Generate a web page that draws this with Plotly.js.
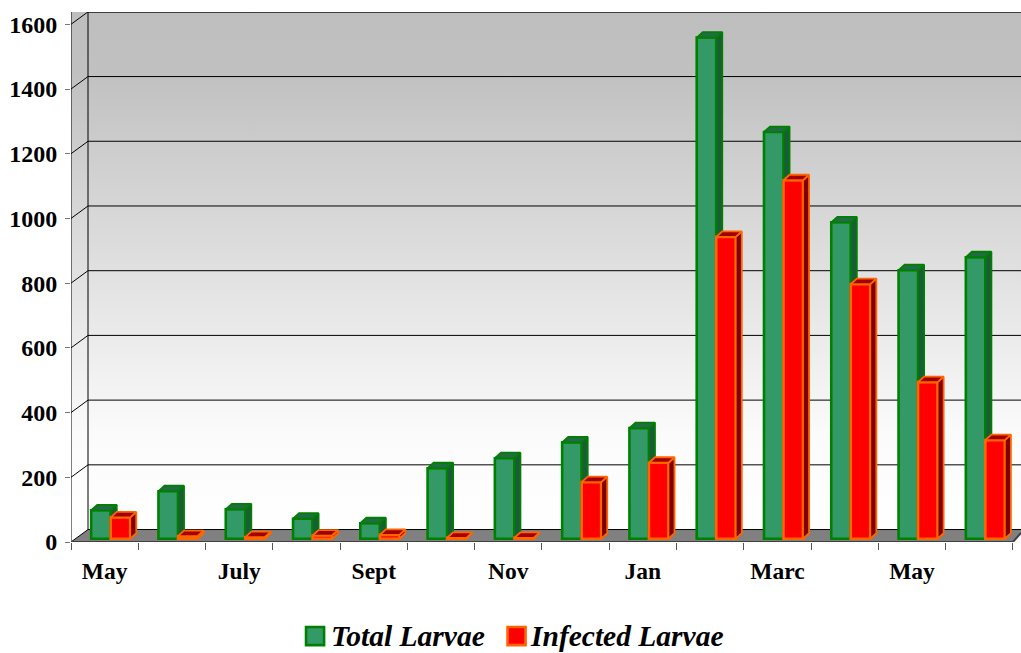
<!DOCTYPE html>
<html>
<head>
<meta charset="utf-8">
<script src="https://cdn.plot.ly/plotly-3.0.1.min.js"></script>
<style>html,body{margin:0;padding:0;background:#fff}#chart{width:1021px;height:653px}</style>
</head>
<body>
<div id="chart"></div>
<script>
// Monthly larvae counts
const months = ['May','','July','','Sept','','Nov','','Jan','','Marc','','May',''];
const totalLarvae = [88,147,91,62,48,218,249,298,342,1549,1257,978,830,870];
const infectedLarvae = [66,8,5,10,12,3,3,175,235,933,1108,787,484,305];
const yTicks = [0,200,400,600,800,1000,1200,1400,1600];

// Pseudo-3D box geometry, in axis units
const xMin = -0.5, xFront = 13.5, xMax = 13.62;
const yMax = 1638;
const wallDx = 0.2526, wallDy = 38.5;   // depth of the back wall
const barDx = 0.09, barDy = 17;         // depth of each bar
const barLift = 10, barWidth = 0.29;
const totalOffset = -0.2, infectedOffset = 0.09;
const edge = 2.6, depthEdge = 1.8;

const serif = 'Liberation Serif, Times New Roman, serif';
const idx = months.map((_, i) => i);

// Side and top faces of a bar series, as polygons separated by gaps
function faces(values, offset) {
  const side = {x: [], y: []}, top = {x: [], y: []};
  values.forEach((v, i) => {
    const l = i + offset, r = l + barWidth, b = barLift, t = barLift + v;
    side.x.push(r, r + barDx, r + barDx, r, r, null);
    side.y.push(b, b + barDy, t + barDy, t, b, null);
    top.x.push(l, l + barDx, r + barDx, r, l, null);
    top.y.push(t, t + barDy, t + barDy, t, t, null);
  });
  return {side, top};
}

function boxTraces(values, offset, name, front, border, sideCol, topCol, xa, ya) {
  const f = faces(values, offset);
  return [
    {type: 'bar', name, x: idx, y: values, base: values.map(() => barLift), width: barWidth, offset,
     marker: {color: front, line: {color: border, width: edge}}, xaxis: xa, yaxis: ya, hoverinfo: 'y+name'},
    {type: 'scatter', mode: 'lines', x: f.side.x, y: f.side.y, fill: 'toself', fillcolor: sideCol,
     line: {color: border, width: depthEdge}, xaxis: xa, yaxis: ya, hoverinfo: 'skip', showlegend: false},
    {type: 'scatter', mode: 'lines', x: f.top.x, y: f.top.y, fill: 'toself', fillcolor: topCol,
     line: {color: border, width: depthEdge}, xaxis: xa, yaxis: ya, hoverinfo: 'skip', showlegend: false}
  ];
}

// Walls, floor and grid
const wallLine = (x, y, color, width) => ({type: 'scatter', mode: 'lines', x, y, hoverinfo: 'skip',
  showlegend: false, line: {color: color || '#000', width: width || 1}, xaxis: 'x', yaxis: 'y'});

const gridX = [], gridY = [];
yTicks.forEach(v => {
  gridX.push(xMin, xMin + wallDx, xMax, null);
  gridY.push(v, v + wallDy, v + wallDy, null);
});

const background = [
  {type: 'scatter', mode: 'lines', x: [xMin, xMax, xMax, xMin, xMin], y: [0, 0, yMax, yMax, 0],
   fill: 'toself', line: {width: 0}, hoverinfo: 'skip', showlegend: false,
   fillgradient: {type: 'vertical', colorscale: [[0, '#ffffff'], [0.2, '#fbfbfb'], [0.88, '#c1c1c1'], [1, '#bebebe']]}},
  {type: 'scatter', mode: 'lines', hoverinfo: 'skip', showlegend: false, fill: 'toself', fillcolor: '#808080',
   line: {width: 0},
   x: [xMin, xFront, xMax, xMax, xMin + wallDx, xMin],
   y: [0, 0, wallDy * 0.72, wallDy, wallDy, 0]},
  {type: 'scatter', mode: 'lines', hoverinfo: 'skip', showlegend: false, fill: 'toself', fillcolor: '#ffffff',
   line: {width: 0},
   x: [xFront, xMax, xMax, xFront], y: [0, 0, wallDy * 0.72, 0]},
  wallLine(gridX, gridY),
  wallLine([xMin + wallDx, xMin + wallDx], [wallDy, yMax]),
  wallLine([xMin + wallDx, xMax], [yMax, yMax]),
  wallLine([xMin, xMin], [0, yMax]),
  wallLine([xMin, xFront, xMax], [0, 0, wallDy * 0.72], '#404040', 2)
];

const traces = background
  .concat(boxTraces(totalLarvae, totalOffset, 'Total Larvae', '#339966', '#008000', '#1a5c38', '#236b45', 'x2', 'y2'))
  .concat(boxTraces(infectedLarvae, infectedOffset, 'Infected Larvae', '#ff0000', '#ff6600', '#800000', '#a00000', 'x3', 'y3'));

const hiddenY = {range: [0, yMax], visible: false, overlaying: 'y', fixedrange: true};
const layout = {
  width: 1021, height: 653,
  margin: {l: 71, r: 0, t: 12, b: 111, pad: 0},
  paper_bgcolor: '#ffffff', plot_bgcolor: '#ffffff',
  showlegend: false, barmode: 'overlay',
  font: {family: serif, color: '#000'},
  xaxis: {range: [xMin, xMax], tickmode: 'array', tickvals: idx.concat(14).map(i => i - 0.5),
          ticktext: idx.concat(14).map(() => ''), ticks: 'outside', ticklen: 7, tickwidth: 1, tickcolor: '#555',
          showgrid: false, zeroline: false, showline: false, fixedrange: true},
  yaxis: {range: [0, yMax], tickmode: 'array', tickvals: yTicks, ticks: 'outside', ticklen: 5, tickwidth: 1,
          tickcolor: '#777', ticklabelstandoff: 3, showgrid: false, zeroline: false, showline: false, fixedrange: true,
          tickfont: {family: serif, size: 24, weight: 'bold', color: '#000'}},
  xaxis2: {range: [xMin, xMax], overlaying: 'x', anchor: 'y2', tickmode: 'array', tickvals: idx, ticktext: months,
           ticks: '', showgrid: false, zeroline: false, showline: false, fixedrange: true, ticklabelstandoff: 12,
           tickangle: 0, tickfont: {family: serif, size: 23.5, weight: 'bold', color: '#000'}},
  yaxis2: Object.assign({anchor: 'x2'}, hiddenY),
  xaxis3: {range: [xMin, xMax], overlaying: 'x', anchor: 'y3', visible: false, fixedrange: true},
  yaxis3: Object.assign({anchor: 'x3'}, hiddenY),
  shapes: [
    {type: 'rect', xref: 'paper', yref: 'paper', x0: 0.2474, x1: 0.2664, y0: -0.1605, y1: -0.1945,
     fillcolor: '#339966', line: {color: '#008000', width: 2.6}},
    {type: 'rect', xref: 'paper', yref: 'paper', x0: 0.4595, x1: 0.4785, y0: -0.1605, y1: -0.1945,
     fillcolor: '#ff0000', line: {color: '#ff6600', width: 2.6}}
  ],
  annotations: [
    {xref: 'paper', yref: 'paper', x: 0.2716, y: -0.1765, xanchor: 'left', yanchor: 'middle', showarrow: false,
     text: '<b><i>Total Larvae</i></b>', font: {family: serif, size: 29.5, color: '#000'}},
    {xref: 'paper', yref: 'paper', x: 0.481, y: -0.1765, xanchor: 'left', yanchor: 'middle', showarrow: false,
     text: '<b><i>Infected Larvae</i></b>', font: {family: serif, size: 29.5, color: '#000'}}
  ]
};

Plotly.newPlot('chart', traces, layout, {displayModeBar: false, responsive: false});
</script>
</body>
</html>
